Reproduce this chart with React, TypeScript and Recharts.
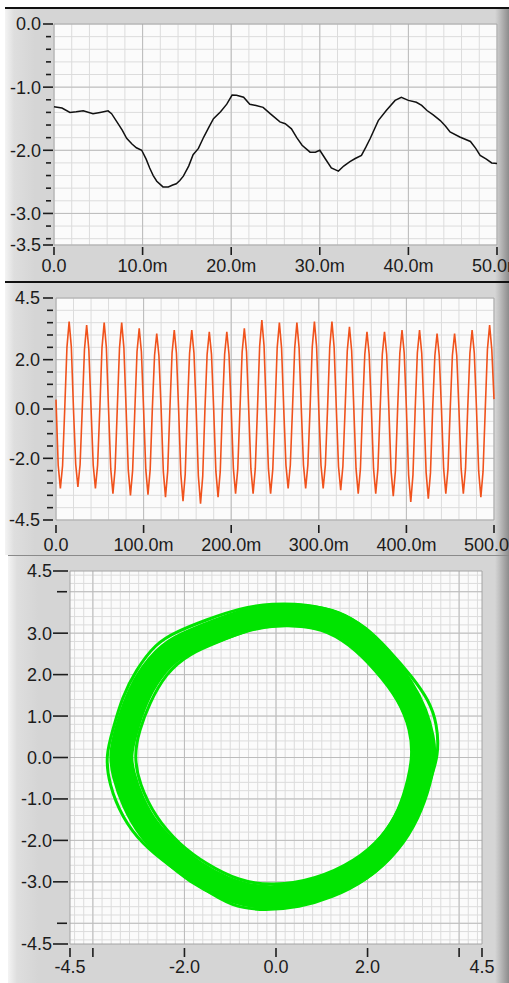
import { LineChart, Line, XAxis, YAxis, CartesianGrid, ReferenceArea } from 'recharts'

const FONT = '"Liberation Sans", Arial, Helvetica, sans-serif'
const INK = '#1c1c1c'

// top graph: slow drift, 0..50 ms
const driftTimeMs = [
  0, 0.9, 1.8, 2.5, 3.3, 4.4, 5.2, 6.1, 6.5, 7.1, 7.7, 8.2, 8.8, 9.3, 9.9, 10.4, 10.8, 11.2, 11.6, 12.3,
  12.9, 13.4, 13.8, 14.2, 14.6, 15.2, 15.7, 16.3, 16.9, 17.5, 18.0, 18.8, 19.5, 20.1, 20.6, 21.4, 22.1,
  22.8, 23.6, 24.4, 25.5, 26.1, 26.8, 27.4, 28.0, 28.9, 29.5, 30.0, 30.6, 31.3, 32.1, 32.7, 33.4, 34.0,
  34.7, 35.2, 35.7, 36.6, 37.5, 38.5, 39.2, 40.0, 40.9, 41.5, 42.1, 42.8, 43.6, 44.2, 44.7, 45.8, 47.0,
  47.6, 48.1, 48.8, 49.4, 50.0,
]
const driftVolts = [
  -1.31, -1.33, -1.4, -1.39, -1.375, -1.42, -1.4, -1.375, -1.42, -1.55, -1.68, -1.81, -1.9, -1.96, -2.0,
  -2.14, -2.28, -2.4, -2.49, -2.58, -2.58, -2.55, -2.53, -2.48, -2.41, -2.25, -2.07, -1.97, -1.79, -1.63,
  -1.5, -1.39, -1.27, -1.125, -1.13, -1.16, -1.27, -1.29, -1.32, -1.42, -1.55, -1.58, -1.66, -1.8, -1.92,
  -2.03, -2.03, -2.0, -2.13, -2.28, -2.33, -2.25, -2.18, -2.13, -2.08, -1.95, -1.81, -1.53, -1.37, -1.21,
  -1.16, -1.21, -1.24, -1.29, -1.37, -1.44, -1.53, -1.62, -1.71, -1.79, -1.86, -1.97, -2.08, -2.14, -2.2,
  -2.21,
]
const driftXTicks = [0, 10, 20, 30, 40, 50]
const driftXLabels = ['0.0', '10.0m', '20.0m', '30.0m', '40.0m', '50.0m']
const driftYTicks = [0, -0.2, -0.4, -0.6, -0.8, -1, -1.2, -1.4, -1.6, -1.8, -2, -2.2, -2.4, -2.6, -2.8, -3, -3.2, -3.4, -3.5]
const driftYLabelAt = [0, -1, -2, -3, -3.5]
const driftYLabels = ['0.0', '-1.0', '-2.0', '-3.0', '-3.5']

// middle graph: 50 Hz sine, one sample every 2.5 ms
const sineStepMs = 2.5
const sineVolts = [
  0.38, -2.28, -3.22, -2.3, 0.03, 2.5, 3.54, 2.52,
  -0.05, -2.24, -3.16, -2.25, 0.02, 2.41, 3.4, 2.4,
  0.04, -2.28, -3.22, -2.27, -0.03, 2.48, 3.5, 2.49,
  -0.02, -2.43, -3.43, -2.42, 0.05, 2.47, 3.5, 2.48,
  0.03, -2.47, -3.5, -2.48, -0.04, 2.32, 3.27, 2.31,
  -0.03, -2.45, -3.47, -2.46, 0.02, 2.17, 3.06, 2.16,
  0.02, -2.52, -3.57, -2.53, -0.02, 2.27, 3.2, 2.26,
  -0.04, -2.64, -3.74, -2.65, 0.03, 2.26, 3.2, 2.27,
  0.02, -2.71, -3.84, -2.72, -0.03, 2.21, 3.13, 2.22,
  -0.02, -2.52, -3.57, -2.53, 0.04, 2.22, 3.13, 2.21,
  0.03, -2.42, -3.43, -2.43, -0.02, 2.31, 3.27, 2.32,
  -0.03, -2.43, -3.43, -2.42, 0.02, 2.55, 3.61, 2.56,
  0.02, -2.42, -3.43, -2.43, -0.03, 2.48, 3.5, 2.47,
  -0.02, -2.28, -3.22, -2.27, 0.03, 2.47, 3.5, 2.48,
  0.03, -2.27, -3.22, -2.28, -0.02, 2.5, 3.54, 2.51,
  -0.03, -2.28, -3.22, -2.27, 0.02, 2.51, 3.54, 2.5,
  0.02, -2.33, -3.29, -2.32, -0.03, 2.35, 3.33, 2.36,
  -0.02, -2.42, -3.43, -2.43, 0.03, 2.21, 3.13, 2.22,
  0.03, -2.43, -3.43, -2.42, -0.02, 2.22, 3.13, 2.21,
  -0.03, -2.5, -3.53, -2.49, 0.02, 2.26, 3.2, 2.27,
  0.02, -2.66, -3.77, -2.67, -0.03, 2.27, 3.2, 2.26,
  -0.02, -2.57, -3.64, -2.58, 0.03, 2.16, 3.06, 2.17,
  0.03, -2.42, -3.43, -2.43, -0.02, 2.17, 3.06, 2.16,
  -0.03, -2.43, -3.43, -2.42, 0.02, 2.26, 3.2, 2.27,
  0.02, -2.52, -3.57, -2.53, -0.03, 2.41, 3.4, 2.4,
  0.4,
]
const sineXTicks = [0, 100, 200, 300, 400, 500]
const sineXLabels = ['0.0', '100.0m', '200.0m', '300.0m', '400.0m', '500.0m']
const sineYTicks = [4.5, 4, 3.5, 3, 2.5, 2, 1.5, 1, 0.5, 0, -0.5, -1, -1.5, -2, -2.5, -3, -3.5, -4, -4.5]
const sineYLabelAt = [4.5, 2, 0, -2, -4.5]
const sineYLabels = ['4.5', '2.0', '0.0', '-2.0', '-4.5']

// bottom graph: X-Y ring, outer edge / middle / inner edge of the traced band (closed loops)
const ringOuter = [
  [-3.72, 0.05], [-3.57, 0.65], [-3.36, 1.46], [-3.06, 2.11], [-2.63, 2.75], [-2.19, 3.03], [-1.53, 3.32],
  [-0.81, 3.6], [-0.08, 3.72], [0.65, 3.7], [1.38, 3.52], [1.96, 3.16], [2.47, 2.59], [2.98, 1.94],
  [3.34, 1.38], [3.52, 0.82], [3.56, 0.05], [3.34, -0.64], [3.05, -1.45], [2.61, -2.33], [1.96, -2.98],
  [1.23, -3.38], [0.5, -3.62], [-0.22, -3.69], [-0.95, -3.62], [-1.68, -3.1], [-2.34, -2.6],
  [-2.92, -2.09], [-3.36, -1.45], [-3.65, -0.64],
]
const ringMiddle = [
  [-3.41, 0.05], [-3.28, 0.65], [-3.07, 1.38], [-2.74, 2.07], [-2.25, 2.65], [-1.55, 2.95], [-0.75, 3.3],
  [0.0, 3.46], [0.7, 3.42], [1.3, 3.3], [1.8, 2.95], [2.33, 2.35], [2.78, 1.7], [3.08, 1.05], [3.22, 0.45],
  [3.26, 0.05], [3.16, -0.55], [2.92, -1.35], [2.5, -2.1], [1.9, -2.72], [1.1, -3.15], [0.25, -3.38],
  [-0.5, -3.38], [-1.15, -3.15], [-1.75, -2.8], [-2.3, -2.3], [-2.78, -1.78], [-3.15, -1.05],
  [-3.34, -0.4],
]
const ringInner = [
  [-3.1, 0.05], [-2.99, 0.65], [-2.77, 1.3], [-2.41, 2.03], [-1.9, 2.51], [-1.17, 2.83], [-0.44, 3.16],
  [0.28, 3.2], [1.01, 3.12], [1.59, 2.75], [2.18, 2.11], [2.69, 1.38], [2.94, 0.65], [2.98, 0.05],
  [2.9, -0.48], [2.69, -1.28], [2.32, -1.93], [1.74, -2.49], [0.87, -2.94], [-0.08, -3.1], [-0.81, -2.98],
  [-1.53, -2.57], [-2.12, -2.09], [-2.63, -1.45], [-2.99, -0.64],
]
const ringXTicks = [-4.5, -4, -2, 0, 2, 4, 4.5]
const ringXLabelAt = [-4.5, -2, 0, 2, 4.5]
const ringXLabels = ['-4.5', '-2.0', '0.0', '2.0', '4.5']
const ringYTicks = [4.5, 4, 3, 2, 1, 0, -1, -2, -3, -4, -4.5]
const ringYLabelAt = [4.5, 3, 2, 1, 0, -1, -2, -3, -4.5]
const ringYLabels = ['4.5', '3.0', '2.0', '1.0', '0.0', '-1.0', '-2.0', '-3.0', '-4.5']

// grid line positions (not data)
const gridSteps = (from: number, to: number, step: number) => {
  const out: number[] = []
  const n = Math.round((to - from) / step)
  for (let i = 0; i <= n; i++) out.push(Number((from + i * step).toFixed(3)))
  return out
}

const driftRows = driftTimeMs.map((t, i) => ({ t, v: driftVolts[i] }))
const sineRows = sineVolts.map((v, i) => ({ t: i * sineStepMs, v }))
const toXY = (pts: number[][]) => pts.map(([x, y]) => ({ x, y }))

const findLabel = (at: number[], v: number) => at.findIndex((a) => Math.abs(a - v) < 1e-6)

type YLook = { gap: number; major: [number, number]; minor: [number, number] }
type XLook = { tick: [number, number]; baseline: number }

const yTick = (at: number[], labels: string[], look: YLook) => (props: any) => {
  const { x, y, payload } = props
  const idx = findLabel(at, payload.value)
  const [a, b] = idx >= 0 ? look.major : look.minor
  return (
    <g>
      <line x1={x - a} x2={x - b} y1={y} y2={y} stroke={INK} strokeWidth={1.6} />
      {idx >= 0 && (
        <text x={x - look.gap} y={y} dy="0.36em" textAnchor="end" fill={INK} fontSize={18} fontFamily={FONT}>
          {labels[idx]}
        </text>
      )}
    </g>
  )
}

const xTick = (at: number[], labels: string[], look: XLook) => (props: any) => {
  const { x, y, payload } = props
  const idx = findLabel(at, payload.value)
  return (
    <g>
      <line x1={x} x2={x} y1={y + look.tick[0]} y2={y + look.tick[1]} stroke={INK} strokeWidth={1.6} />
      {idx >= 0 && (
        <text x={x} y={y + look.baseline} textAnchor="middle" fill={INK} fontSize={18} fontFamily={FONT}>
          {labels[idx]}
        </text>
      )}
    </g>
  )
}

const panelBg =
  'linear-gradient(to right, #f4f4f4 0px, #dedede 9px, #d5d5d5 30px, #d5d5d5 calc(100% - 14px), #c2c2c2 calc(100% - 10px), #8c8c8c 100%)'

const MINOR = '#dcdcdc'
const MAJOR = '#bcbcbc'
const PLOT_BG = '#fbfbfb'
const GREEN = '#00e400'

export default function App() {
  return (
    <div style={{ position: 'absolute', left: 0, top: 0, width: 509, height: 983, background: '#fff', overflow: 'hidden' }}>
      <div style={{ position: 'absolute', left: 5, top: 7, width: 504, height: 274, borderTop: '2px solid #111', background: panelBg }} />
      <div style={{ position: 'absolute', left: 5, top: 281, width: 504, height: 272, borderTop: '2px solid #111', background: panelBg }} />
      <div style={{ position: 'absolute', left: 8, top: 555, width: 501, height: 428, borderTop: '1px solid #8a8a8a', background: panelBg }} />

      <div style={{ position: 'absolute', left: 0, top: 0 }}>
        <LineChart width={509} height={281} data={driftRows} margin={{ top: 24, right: 12, left: 0, bottom: 0 }}>
          <CartesianGrid fill={PLOT_BG} stroke={MINOR} horizontalValues={driftYTicks} verticalValues={gridSteps(0, 50, 2)} />
          <CartesianGrid stroke={MAJOR} horizontalValues={[-1, -2, -3]} verticalValues={[10, 20, 30, 40]} />
          <XAxis
            dataKey="t"
            type="number"
            domain={[0, 50]}
            ticks={driftXTicks}
            interval={0}
            height={36}
            axisLine={false}
            tickLine={false}
            tickSize={0}
            tickMargin={0}
            tick={xTick(driftXTicks, driftXLabels, { tick: [2, 10], baseline: 27 })}
          />
          <YAxis
            type="number"
            domain={[-3.5, 0]}
            ticks={driftYTicks}
            interval={0}
            width={54}
            axisLine={false}
            tickLine={false}
            tickSize={0}
            tickMargin={0}
            tick={yTick(driftYLabelAt, driftYLabels, { gap: 13, major: [11, 1], minor: [8, 3] })}
          />
          <ReferenceArea x1={0} x2={50} y1={-3.5} y2={0} fill="none" stroke="#a4a4a4" />
          <Line dataKey="v" type="linear" stroke="#111" strokeWidth={1.5} dot={false} activeDot={false} isAnimationActive={false} />
        </LineChart>
      </div>

      <div style={{ position: 'absolute', left: 0, top: 281 }}>
        <LineChart width={509} height={276} data={sineRows} margin={{ top: 17, right: 15, left: 0, bottom: 0 }}>
          <CartesianGrid fill={PLOT_BG} stroke={MINOR} horizontalValues={sineYTicks} verticalValues={gridSteps(0, 500, 20)} />
          <CartesianGrid stroke={MAJOR} horizontalValues={[2, 0, -2]} verticalValues={[100, 200, 300, 400]} />
          <XAxis
            dataKey="t"
            type="number"
            domain={[0, 500]}
            ticks={sineXTicks}
            interval={0}
            height={37}
            axisLine={false}
            tickLine={false}
            tickSize={0}
            tickMargin={0}
            tick={xTick(sineXTicks, sineXLabels, { tick: [5, 13], baseline: 31 })}
          />
          <YAxis
            type="number"
            domain={[-4.5, 4.5]}
            ticks={sineYTicks}
            interval={0}
            width={56}
            axisLine={false}
            tickLine={false}
            tickSize={0}
            tickMargin={0}
            tick={yTick(sineYLabelAt, sineYLabels, { gap: 16, major: [13, 3], minor: [9, 3] })}
          />
          <ReferenceArea x1={0} x2={500} y1={-4.5} y2={4.5} fill="none" stroke="#a4a4a4" />
          <Line dataKey="v" type="linear" stroke="#f0521c" strokeWidth={1.6} dot={false} activeDot={false} isAnimationActive={false} />
        </LineChart>
      </div>

      <div style={{ position: 'absolute', left: 0, top: 555 }}>
        <LineChart width={509} height={428} margin={{ top: 16, right: 27, left: 0, bottom: 0 }}>
          <CartesianGrid fill={PLOT_BG} stroke={MINOR} horizontalValues={gridSteps(-4.4, 4.4, 0.2)} verticalValues={gridSteps(-4.4, 4.4, 0.2)} />
          <CartesianGrid stroke={MAJOR} horizontalValues={[4, 3, 2, 1, 0, -1, -2, -3, -4]} verticalValues={[-4, -2, 0, 2, 4]} />
          <XAxis
            dataKey="x"
            type="number"
            domain={[-4.5, 4.5]}
            ticks={ringXTicks}
            interval={0}
            height={39}
            axisLine={false}
            tickLine={false}
            tickSize={0}
            tickMargin={0}
            tick={xTick(ringXLabelAt, ringXLabels, { tick: [4, 13], baseline: 29 })}
          />
          <YAxis
            type="number"
            domain={[-4.5, 4.5]}
            ticks={ringYTicks}
            interval={0}
            width={70}
            axisLine={false}
            tickLine={false}
            tickSize={0}
            tickMargin={0}
            tick={yTick(ringYLabelAt, ringYLabels, { gap: 18, major: [17, 2], minor: [13, 3] })}
          />
          <ReferenceArea x1={-4.5} x2={4.5} y1={-4.5} y2={4.5} fill="none" stroke="#a4a4a4" />
          <Line data={toXY(ringMiddle)} dataKey="y" type="basisClosed" stroke={GREEN} strokeWidth={24} dot={false} activeDot={false} isAnimationActive={false} />
          <Line data={toXY(ringOuter)} dataKey="y" type="basisClosed" stroke={GREEN} strokeWidth={3} dot={false} activeDot={false} isAnimationActive={false} />
          <Line data={toXY(ringInner)} dataKey="y" type="basisClosed" stroke={GREEN} strokeWidth={3} dot={false} activeDot={false} isAnimationActive={false} />
        </LineChart>
      </div>
    </div>
  )
}
